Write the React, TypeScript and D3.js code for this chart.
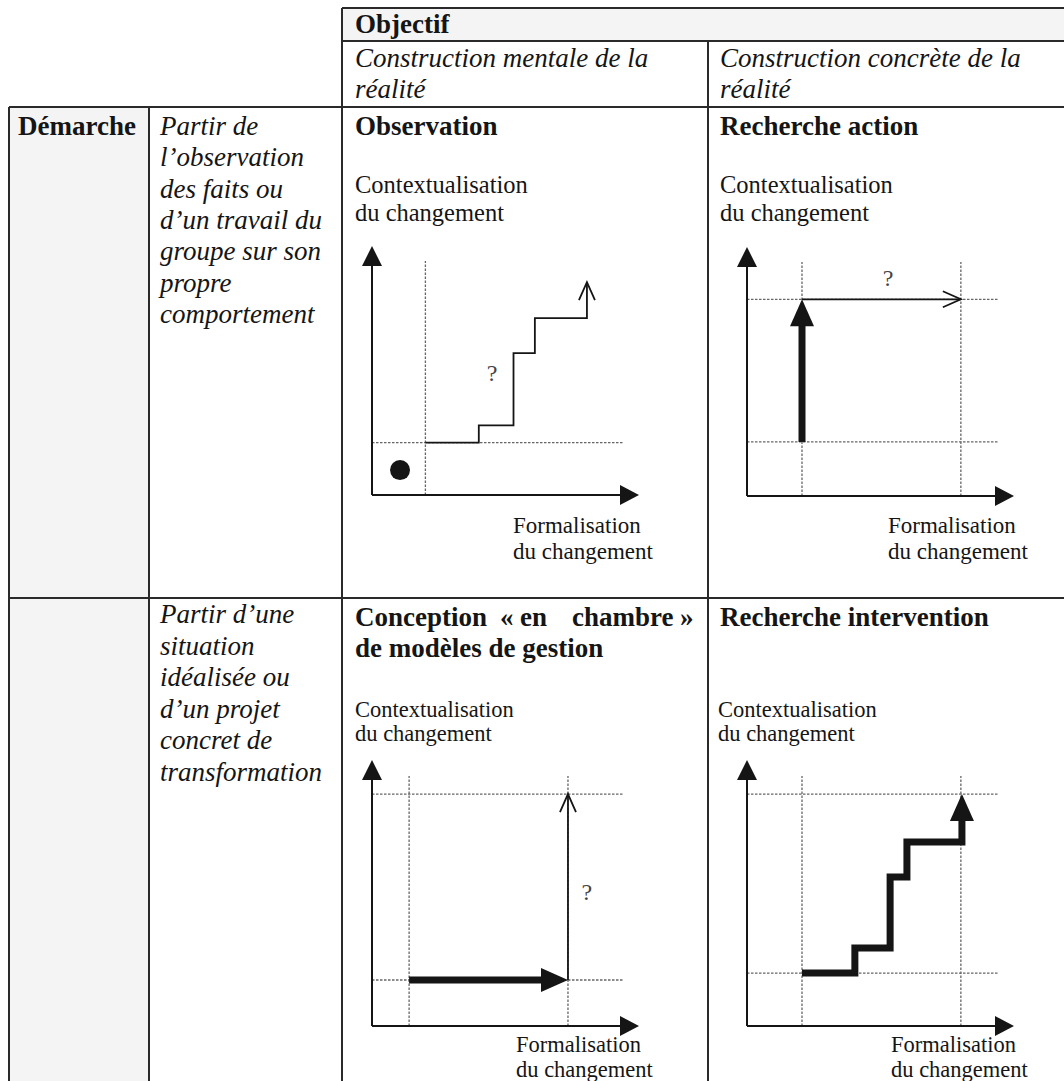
import * as React from 'react'
import * as d3 from 'd3'

const W = 1064
const H = 1081

// ---- texts
const objectiveTitle = 'Objectif'
const objectiveCols = [
  ['Construction mentale de la', 'réalité'],
  ['Construction concrète de la', 'réalité'],
]
const approachTitle = 'Démarche'
const approachRows = [
  ['Partir de', 'l’observation', 'des faits ou', 'd’un travail du', 'groupe sur son', 'propre', 'comportement'],
  ['Partir d’une', 'situation', 'idéalisée ou', 'd’un projet', 'concret de', 'transformation'],
]
const panelTitles = ['Observation', 'Recherche action', 'Recherche intervention']
const justifiedTitle = ['Conception', '«', 'en', 'chambre', '»']
const justifiedTitle2 = 'de modèles de gestion'
const yAxisLabel = ['Contextualisation', 'du changement']
const xAxisLabel = ['Formalisation', 'du changement']

// ---- diagram values, in axis units (0-100 on both axes)
const obsGuidesX = [20]
const obsGuidesY = [21]
const obsSteps = [[20, 21], [40, 21], [40, 28], [53, 28], [53, 57], [61, 57], [61, 71], [80.5, 71], [80.5, 85.5]]
const obsDot = [10.5, 10]
const obsMark = [45, 49]

const raGuidesX = [20.6, 80.1]
const raGuidesY = [21.7, 79]
const raThick = [[20.6, 21.7], [20.6, 79]]
const raThin = [[20.6, 79], [80.1, 79]]
const raMark = [52.8, 87.5]

const ccGuidesX = [13.9, 73.4]
const ccGuidesY = [17.3, 87.2]
const ccThick = [[13.9, 17.3], [73.4, 17.3]]
const ccThin = [[73.4, 17.3], [73.4, 87.2]]
const ccMark = [80.5, 50.4]

const riGuidesX = [20.6, 80.1]
const riGuidesY = [19.9, 87.2]
const riThick = [[20.6, 19.9], [40.4, 19.9], [40.4, 29.3], [53.6, 29.3], [53.6, 56], [59.9, 56], [59.9, 69.2], [80.5, 69.2], [80.5, 87.2]]

const GUIDE_END = 94
const SERIF = '"Liberation Serif", "Times New Roman", serif'
const INK = '#151515'

const panels = [
  { ox: 372, oy: 495, yLen: 249, gx: obsGuidesX, gy: obsGuidesY, thin: obsSteps, thick: null, dot: obsDot, mark: obsMark,
    yl: { x: 355, b: [193, 221], fs: 24.5 }, xl: { x: 513, b: [533, 559], fs: 23 } },
  { ox: 747, oy: 496, yLen: 249, gx: raGuidesX, gy: raGuidesY, thin: raThin, thick: raThick, dot: null, mark: raMark,
    yl: { x: 720, b: [193, 221], fs: 24.5 }, xl: { x: 888, b: [533, 559], fs: 23 } },
  { ox: 372, oy: 1026, yLen: 266, gx: ccGuidesX, gy: ccGuidesY, thin: ccThin, thick: ccThick, dot: null, mark: ccMark,
    yl: { x: 355, b: [717, 741], fs: 22.5 }, xl: { x: 516, b: [1052, 1077], fs: 22.5 } },
  { ox: 747, oy: 1026, yLen: 266, gx: riGuidesX, gy: riGuidesY, thin: null, thick: riThick, dot: null, mark: null,
    yl: { x: 718, b: [717, 741], fs: 22.5 }, xl: { x: 891, b: [1052, 1077], fs: 22.5 } },
]

function head(pts, len, hw) {
  const [a, b] = pts.slice(-2)
  const dx = b[0] - a[0], dy = b[1] - a[1]
  const l = Math.hypot(dx, dy)
  const ux = dx / l, uy = dy / l
  const bx = b[0] - ux * len, by = b[1] - uy * len
  return {
    tip: b,
    w1: [bx - uy * hw, by + ux * hw],
    w2: [bx + uy * hw, by - ux * hw],
    mid: [b[0] - ux * len * 0.6, b[1] - uy * len * 0.6],
  }
}

const Panel = ({ p }) => {
  const x = d3.scaleLinear().domain([0, 100]).range([p.ox, p.ox + 267])
  const y = d3.scaleLinear().domain([0, 100]).range([p.oy, p.oy - p.yLen])
  const toPx = (d) => [x(d[0]), y(d[1])]
  const line = d3.line()

  const yTip = [x(0), y(100)]
  const xTip = [x(100), y(0)]

  let thinEl = null
  if (p.thin) {
    const pts = p.thin.map(toPx)
    const h = head(pts, 18, 8)
    thinEl = (
      <g fill="none" stroke={INK} strokeWidth={1.8}>
        <path d={line(pts)} strokeLinejoin="miter" />
        <path d={line([h.w1, h.tip, h.w2])} />
      </g>
    )
  }
  let thickEl = null
  if (p.thick) {
    const pts = p.thick.map(toPx)
    const h = head(pts, 27, 12)
    const body = [...pts.slice(0, -1), h.mid]
    thickEl = (
      <g>
        <path d={line(body)} fill="none" stroke={INK} strokeWidth={7} strokeLinejoin="miter" />
        <path d={line([h.w1, h.tip, h.w2]) + 'Z'} fill={INK} />
      </g>
    )
  }

  return (
    <g>
      {/* dotted guides */}
      <g stroke="#666" strokeWidth={1.3} strokeDasharray="2.5,1.5">
        {p.gx.map((g, i) => (
          <line key={'gx' + i} x1={x(g)} x2={x(g)} y1={y(0)} y2={y(GUIDE_END)} />
        ))}
        {p.gy.map((g, i) => (
          <line key={'gy' + i} x1={x(0)} x2={x(GUIDE_END)} y1={y(g)} y2={y(g)} />
        ))}
      </g>
      {/* axes */}
      <g stroke={INK} strokeWidth={2}>
        <line x1={x(0)} y1={y(0)} x2={x(0)} y2={yTip[1] + 15} />
        <line x1={x(0)} y1={y(0)} x2={xTip[0] - 15} y2={y(0)} />
      </g>
      <path d={line([yTip, [yTip[0] - 10, yTip[1] + 20], [yTip[0] + 10, yTip[1] + 20]]) + 'Z'} fill={INK} />
      <path d={line([xTip, [xTip[0] - 19, xTip[1] - 10], [xTip[0] - 19, xTip[1] + 10]]) + 'Z'} fill={INK} />
      {thinEl}
      {thickEl}
      {p.dot && <circle cx={x(p.dot[0])} cy={y(p.dot[1])} r={10} fill={INK} />}
      {p.mark && (
        <text x={x(p.mark[0])} y={y(p.mark[1]) + 8} textAnchor="middle" fontSize={24} fill="#444" fontFamily={SERIF}>?</text>
      )}
      {/* axis labels */}
      <g fontFamily={SERIF} fill={INK}>
        {yAxisLabel.map((t, i) => (
          <text key={'yl' + i} x={p.yl.x} y={p.yl.b[i]} fontSize={p.yl.fs}>{t}</text>
        ))}
        {xAxisLabel.map((t, i) => (
          <text key={'xl' + i} x={p.xl.x} y={p.xl.b[i]} fontSize={p.xl.fs}>{t}</text>
        ))}
      </g>
    </g>
  )
}

const App = () => {
  const grid = '#2a2a2a'
  const titleX = [355, 720]
  return (
    <svg width={W} height={H} style={{ position: 'absolute', left: 0, top: 0, background: '#fff' }}>
      {/* shaded cells */}
      <rect x={342} y={8} width={W - 342} height={33} fill="#f4f4f4" />
      <rect x={9} y={107} width={140} height={H - 107} fill="#f4f4f4" />

      {/* grid */}
      <g stroke={grid} strokeWidth={2}>
        <line x1={342} x2={W} y1={8} y2={8} />
        <line x1={342} x2={W} y1={41} y2={41} />
        <line x1={9} x2={W} y1={107} y2={107} />
        <line x1={9} x2={W} y1={598} y2={598} />
        <line x1={342} x2={342} y1={8} y2={H} />
        <line x1={708} x2={708} y1={41} y2={H} />
        <line x1={9} x2={9} y1={107} y2={H} />
        <line x1={149} x2={149} y1={107} y2={H} />
      </g>

      <g fontFamily={SERIF} fill={INK}>
        <text x={355} y={33} fontSize={27} fontWeight="bold">{objectiveTitle}</text>
        {objectiveCols.map((col, c) =>
          col.map((t, i) => (
            <text key={'oc' + c + i} x={titleX[c]} y={67 + i * 31} fontSize={27} fontStyle="italic">{t}</text>
          ))
        )}
        <text x={18} y={135} fontSize={27} fontWeight="bold">{approachTitle}</text>
        {approachRows[0].map((t, i) => (
          <text key={'a0' + i} x={160} y={135 + i * 31.3} fontSize={27} fontStyle="italic">{t}</text>
        ))}
        {approachRows[1].map((t, i) => (
          <text key={'a1' + i} x={160} y={623 + i * 31.6} fontSize={27} fontStyle="italic">{t}</text>
        ))}

        <g fontSize={27} fontWeight="bold">
          <text x={355} y={135}>{panelTitles[0]}</text>
          <text x={720} y={135}>{panelTitles[1]}</text>
          <text x={720} y={626}>{panelTitles[2]}</text>
          <text y={626}>
            {justifiedTitle.map((w, i) => (
              <tspan key={'jt' + i} x={[355, 500, 520, 572, 680][i]}>{w}</tspan>
            ))}
          </text>
          <text x={355} y={657}>{justifiedTitle2}</text>
        </g>
      </g>

      {panels.map((p, i) => (
        <Panel key={i} p={p} />
      ))}
    </svg>
  )
}

export default App
